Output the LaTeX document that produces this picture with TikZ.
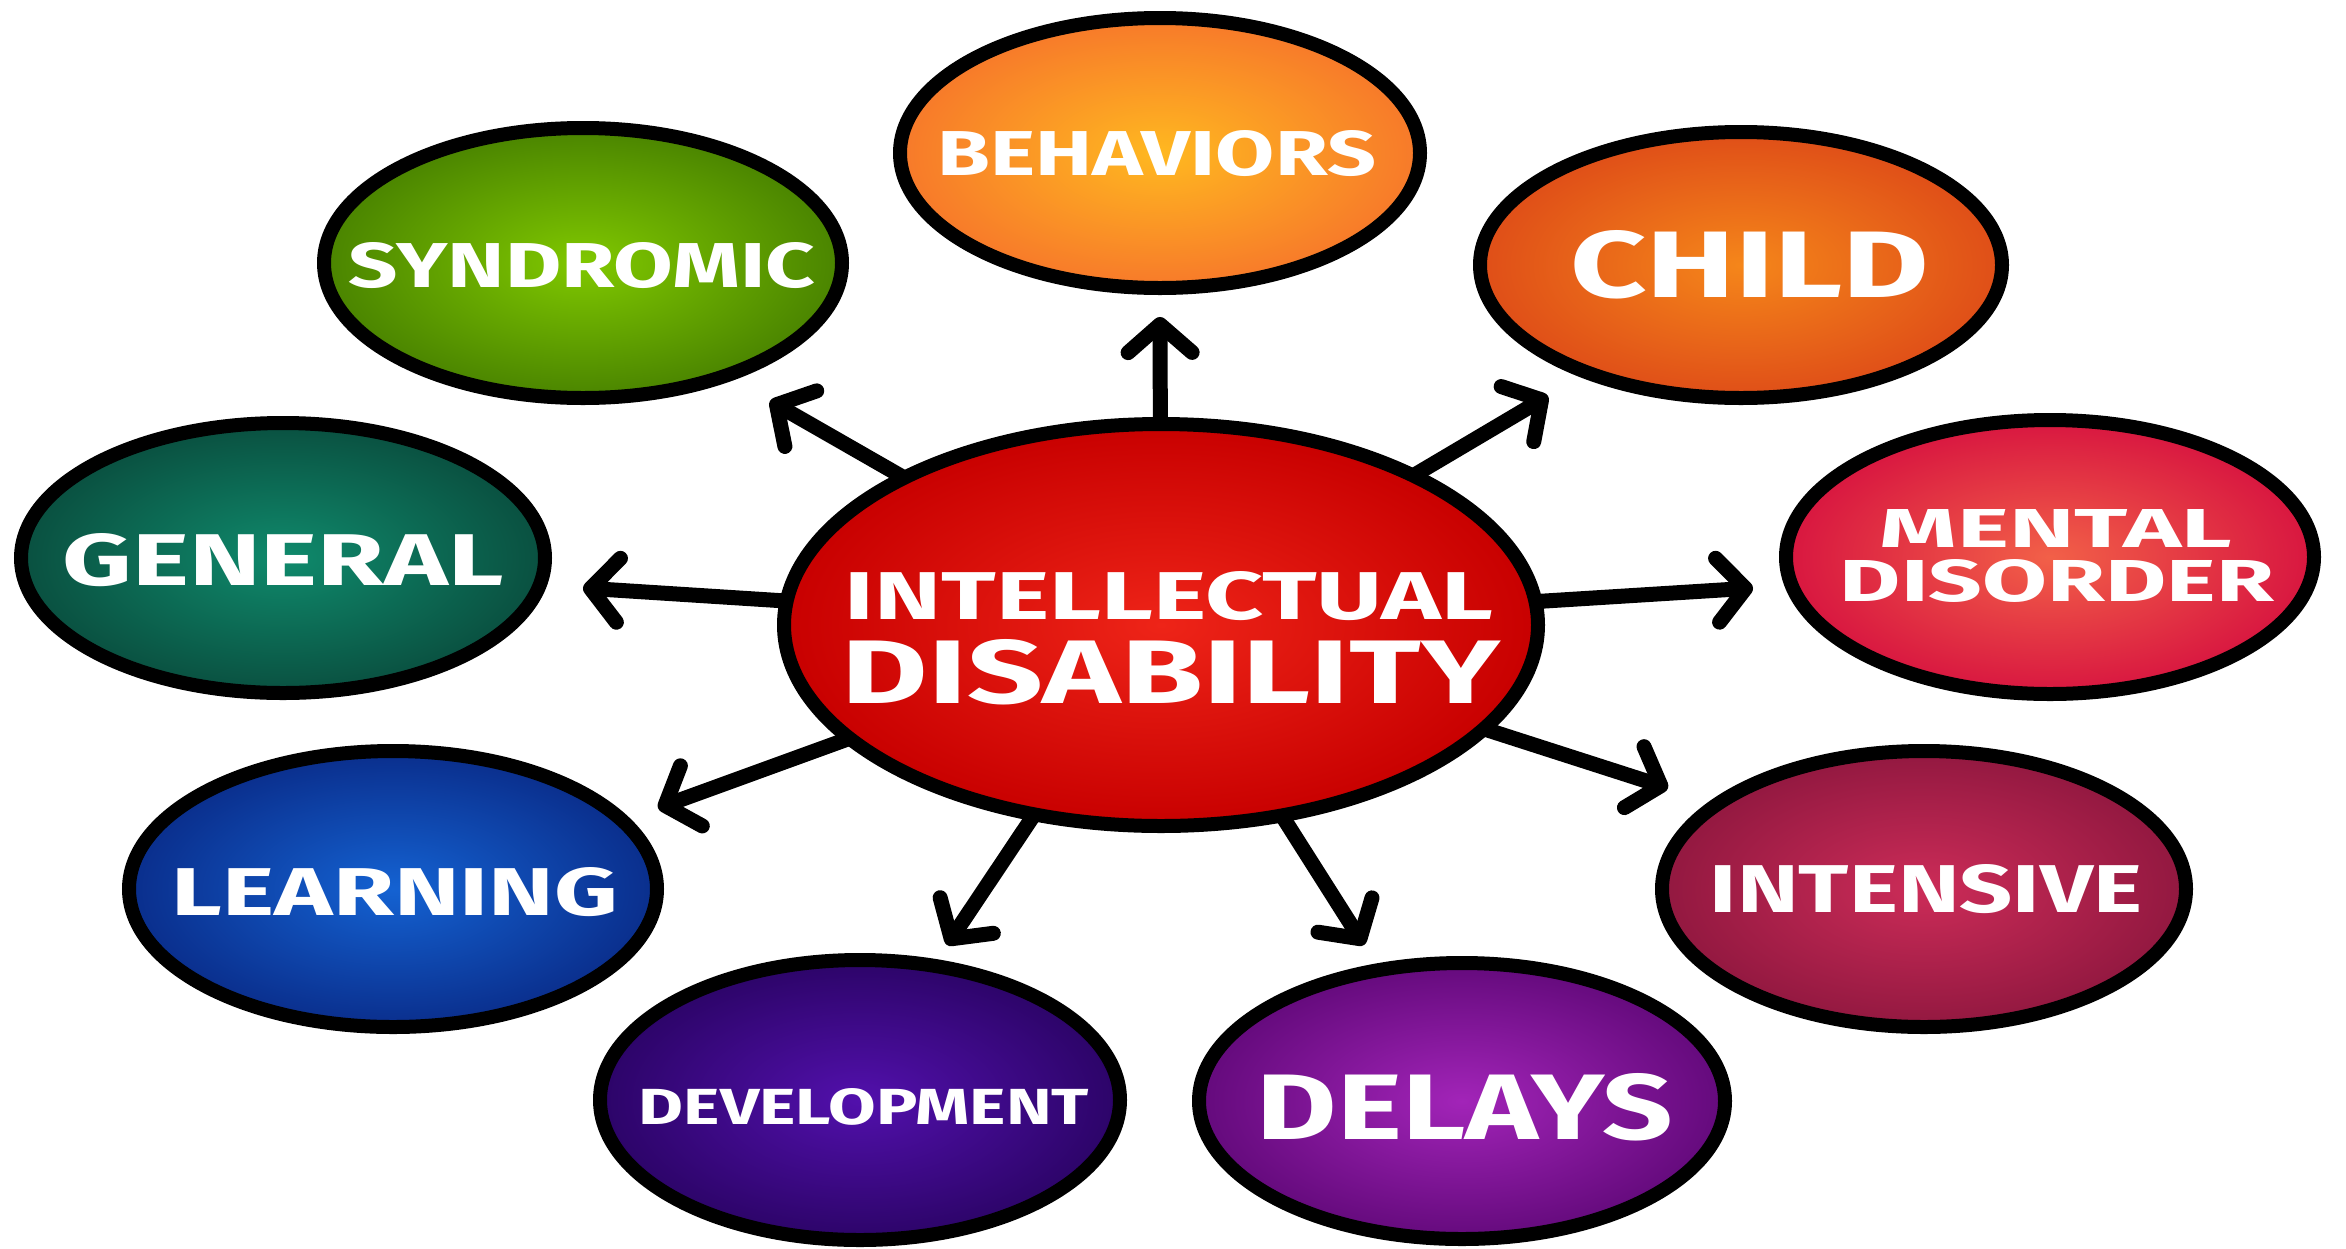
\documentclass[tikz,border=0pt]{standalone}
\usepackage{fontspec}
\usepackage{graphicx}
\setmainfont{Fira Sans}
\usetikzlibrary{arrows.meta,shapes.geometric}
\definecolor{redIn}{HTML}{EE2418}
\definecolor{redOut}{HTML}{C80000}
\definecolor{behIn}{HTML}{FFB820}
\definecolor{behOut}{HTML}{F7792A}
\definecolor{chiIn}{HTML}{F5861A}
\definecolor{chiOut}{HTML}{DF4E18}
\definecolor{synIn}{HTML}{80C800}
\definecolor{synOut}{HTML}{4A8400}
\definecolor{genIn}{HTML}{0F8A6C}
\definecolor{genOut}{HTML}{0A5040}
\definecolor{menIn}{HTML}{F26048}
\definecolor{menOut}{HTML}{D81640}
\definecolor{intIn}{HTML}{CC2C58}
\definecolor{intOut}{HTML}{921840}
\definecolor{leaIn}{HTML}{1462D2}
\definecolor{leaOut}{HTML}{0A2E8C}
\definecolor{devIn}{HTML}{5210AC}
\definecolor{devOut}{HTML}{2C0468}
\definecolor{delIn}{HTML}{A224B8}
\definecolor{delOut}{HTML}{640A7C}
\tikzset{
  bubble/.style={ellipse, inner sep=0pt, outer sep=0pt},
  blobline/.style={draw=black, line width=14pt, shading=radial},
  lbl/.style={text=white, inner sep=0pt, font=\bfseries},
  arr/.style={line width=15pt, line cap=round, -{Straight Barb[length=28pt,width=64pt,round]}},
}
\newcommand\fitto[3]{\resizebox{#1pt}{#2pt}{#3}}
% bubble outline: centre x, centre y, half width, half height, inner colour, outer colour
\newcommand\blob[6]{%
  \shade[blobline, inner color=#5, outer color=#6]
    (#1,#2) ellipse [x radius=#3pt, y radius=#4pt];}
\begin{document}
\begin{tikzpicture}[x=1pt,y=-1pt]
\fill[white] (0,0) rectangle (2346,1248);
\useasboundingbox (0,0) rectangle (2346,1248);
% named bubble nodes
\node[bubble, minimum width=752pt, minimum height=400pt] (ctr) at (1161,625) {};
\node[bubble, minimum width=518pt, minimum height=268pt] (beh) at (1160,153) {};
\node[bubble, minimum width=521pt, minimum height=264pt] (chi) at (1741,265) {};
\node[bubble, minimum width=517pt, minimum height=268pt] (syn) at (583,263) {};
\node[bubble, minimum width=523pt, minimum height=269pt] (gen) at (283,558) {};
\node[bubble, minimum width=526pt, minimum height=272pt] (men) at (2050,557) {};
\node[bubble, minimum width=526pt, minimum height=274pt] (lea) at (393,889) {};
\node[bubble, minimum width=523pt, minimum height=274pt] (int) at (1924,889) {};
\node[bubble, minimum width=519pt, minimum height=278pt] (dev) at (860,1100) {};
\node[bubble, minimum width=524pt, minimum height=275pt] (del) at (1462,1101) {};
% arrow tips
\coordinate (tBeh) at (1160,317);
\coordinate (tChi) at (1548,396);
\coordinate (tSyn) at (770,401);
\coordinate (tGen) at (583,588);
\coordinate (tMen) at (1753,588);
\coordinate (tLea) at (658,808);
\coordinate (tInt) at (1668,788);
\coordinate (tDev) at (947,945);
\coordinate (tDel) at (1364,945);
\foreach \t in {tBeh,tChi,tSyn,tGen,tMen,tLea,tInt,tDev,tDel}
  \draw[arr] (ctr) -- (\t);
% bubble shapes
\blob{1161}{625}{377}{201}{redIn}{redOut}
\blob{1160}{153}{260}{135}{behIn}{behOut}
\blob{1741}{265}{261}{133}{chiIn}{chiOut}
\blob{583}{263}{259}{135}{synIn}{synOut}
\blob{283}{558}{262}{135}{genIn}{genOut}
\blob{2050}{557}{264}{137}{menIn}{menOut}
\blob{393}{889}{264}{138}{leaIn}{leaOut}
\blob{1924}{889}{262}{138}{intIn}{intOut}
\blob{860}{1100}{260}{140}{devIn}{devOut}
\blob{1462}{1101}{263}{138}{delIn}{delOut}
% labels
\node[lbl] (ctrT1) at (1169,596) {\fitto{648}{48}{INTELLECTUAL}};
\node[lbl] (ctrT2) at (1171,672) {\fitto{658}{64}{DISABILITY}};
\node[lbl] (behT) at (1157,154) {\fitto{438}{45}{BEHAVIORS}};
\node[lbl] (chiT) at (1750,265) {\fitto{359}{67}{CHILD}};
\node[lbl] (synT) at (582,266) {\fitto{467}{45}{SYNDROMIC}};
\node[lbl] (genT) at (283,560) {\fitto{441}{52}{GENERAL}};
\node[lbl] (menT1) at (2056,528) {\fitto{352}{38}{MENTAL}};
\node[lbl] (menT2) at (2057,581) {\fitto{434}{42}{DISORDER}};
\node[lbl] (leaT) at (395,892) {\fitto{446}{48}{LEARNING}};
\node[lbl] (intT) at (1926,889) {\fitto{432}{48}{INTENSIVE}};
\node[lbl] (devT) at (864,1107) {\fitto{450}{36}{DEVELOPMENT}};
\node[lbl] (delT) at (1465,1107) {\fitto{416}{66}{DELAYS}};
\end{tikzpicture}
\end{document}
